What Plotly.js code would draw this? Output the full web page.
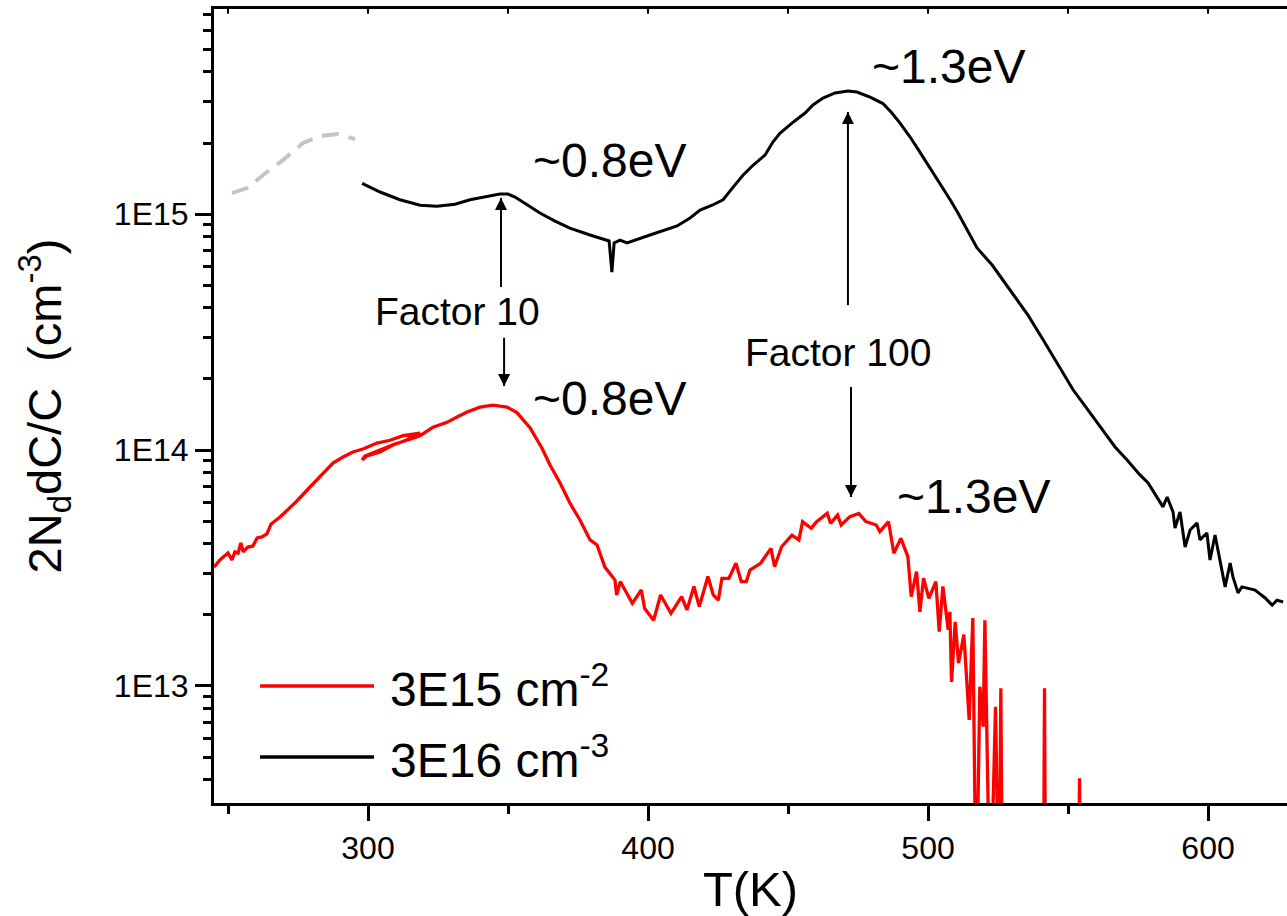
<!DOCTYPE html>
<html>
<head>
<meta charset="utf-8">
<script src="https://cdn.plot.ly/plotly-3.0.1.min.js"></script>
<style>html,body{margin:0;padding:0;background:#fff;}#chart{width:1287px;height:916px;}</style>
</head>
<body>
<div id="chart"></div>
<script>
// ---- data (T in K, 2NddC/C in cm^-3) ----
const blackT = [297.9,304.3,311.4,318.6,324.6,331.1,336.4,343.6,347.1,350.0,352.5,357.1,361.4,366.8,372.1,379.3,384.6,386.1,387.1,387.9,390.0,392.5,400.7,410.4,415.0,418.6,422.9,426.8,430.4,433.9,437.5,441.8,444.6,447.1,451.4,456.1,458.9,462.5,466.8,471.4,474.6,479.3,483.9,487.1,490.0,493.6,497.1,500.7,504.3,507.9,510.7,514.3,517.5,522.9,529.3,535.7,541.1,548.2,551.8,555.0,558.9,563.2,566.8,571.1,575.7,578.6,581.8,583.9,585.4,587.5,588.2,590.0,591.8,593.6,596.1,597.1,599.6,600.7,602.5,604.3,606.1,607.9,608.9,610.7,612.1,616.8,620.4,622.9,624.6,626.8];
const blackV = [1.35e15,1.24e15,1.15e15,1.09e15,1.08e15,1.10e15,1.15e15,1.19e15,1.215e15,1.215e15,1.18e15,1.09e15,1.01e15,9.34e14,8.72e14,8.15e14,7.76e14,7.69e14,5.68e14,7.54e14,7.76e14,7.54e14,8.15e14,8.90e14,9.62e14,1.04e15,1.09e15,1.15e15,1.30e15,1.46e15,1.61e15,1.78e15,2.02e15,2.20e15,2.43e15,2.68e15,2.90e15,3.10e15,3.26e15,3.32e15,3.29e15,3.13e15,2.94e15,2.68e15,2.43e15,2.12e15,1.83e15,1.57e15,1.33e15,1.15e15,1.01e15,8.39e14,7.18e14,6.08e14,4.76e14,3.73e14,2.93e14,2.12e14,1.80e14,1.60e14,1.38e14,1.18e14,1.03e14,9.07e13,7.84e13,7.25e13,6.26e13,5.74e13,6.32e13,5.46e13,4.67e13,5.46e13,3.88e13,4.58e13,4.91e13,4.16e13,4.45e13,3.42e13,4.36e13,3.42e13,2.63e13,3.32e13,2.90e13,2.48e13,2.63e13,2.55e13,2.36e13,2.20e13,2.31e13,2.27e13];

const grayT = [251.4,256.8,263.9,269.6,276.8,282.9,289.3,295.4];
const grayV = [1.227e15,1.289e15,1.507e15,1.693e15,2.0e15,2.141e15,2.183e15,2.079e15];

const redT = [245.0,247.1,250.0,251.4,252.5,253.6,254.6,255.4,257.1,258.9,260.4,262.1,263.9,265.4,268.6,271.4,274.6,279.3,283.9,287.5,291.1,294.6,298.2,303.2,307.9,312.5,318.6,313.6,308.9,304.3,299.6,297.9,298.9,304.3,309.6,315.0,318.6,323.2,328.2,331.8,335.4,340.0,344.6,349.6,353.2,357.9,362.1,365.0,368.6,372.1,375.7,379.3,381.8,384.6,
  388.2,388.8,390.1,394.4,397.6,398.8,402.0,404.5,408.2,412.0,413.9,416.4,418.3,421.4,423.3,425.1,426.4,428.9,431.4,433.3,435.1,436.4,440.2,443.9,445.2,447.7,451.4,453.9,455.2,458.3,460.2,464.0,465.2,467.7,469.0,472.1,475.3,477.8,481.5,482.8,485.9,487.8,490.3,492.8,494.0,495.9,497.1,498.4,500.3,502.8,504.0,505.3,507.2,507.8,508.4,509.7,510.9,512.8,514.7,516.0,517.2,518.5,519.7,520.3,522.2,524.1,525.4,526.0,526.6,541.2,541.6,542.0,553.8,554.1,554.4];
const redV = [3.19e13,3.42e13,3.66e13,3.42e13,3.70e13,3.66e13,4.04e13,3.70e13,3.88e13,3.92e13,4.24e13,4.28e13,4.41e13,4.86e13,5.20e13,5.57e13,6.08e13,6.97e13,7.91e13,8.81e13,9.34e13,9.81e13,1.01e14,1.07e14,1.10e14,1.15e14,1.18e14,1.10e14,1.05e14,9.81e13,9.43e13,9.07e13,9.43e13,1.00e14,1.06e14,1.11e14,1.15e14,1.25e14,1.31e14,1.38e14,1.45e14,1.52e14,1.55e14,1.52e14,1.44e14,1.24e14,1.02e14,8.64e13,7.25e13,5.96e13,5.05e13,4.16e13,3.96e13,3.19e13,
  2.81e13,2.43e13,2.77e13,2.24e13,2.55e13,2.13e13,1.90e13,2.43e13,2.03e13,2.39e13,2.10e13,2.64e13,2.17e13,2.91e13,2.43e13,2.31e13,2.86e13,2.86e13,3.31e13,2.77e13,2.77e13,3.10e13,3.31e13,3.83e13,3.20e13,3.89e13,4.36e13,4.16e13,4.97e13,4.66e13,4.97e13,5.39e13,4.89e13,5.30e13,4.81e13,5.22e13,5.39e13,4.97e13,4.81e13,4.51e13,4.97e13,3.65e13,4.22e13,3.53e13,2.39e13,3.05e13,2.06e13,2.86e13,2.35e13,2.77e13,1.70e13,2.64e13,1.73e13,2.06e13,1.04e13,1.87e13,1.25e13,1.65e13,7.18e12,1.94e13,1.0e12,9.93e12,6.72e12,1.90e13,1.0e12,8.17e12,1.0e12,9.78e12,1.0e12,1.0e12,9.78e12,1.0e12,1.0e12,4.06e12,1.0e12];

const seriesNames = ['3E15 cm<sup>-2</sup>', '3E16 cm<sup>-3</sup>'];
const xTickVals = [300, 400, 500, 600];
const xTickText = ['300', '400', '500', '600'];
const xMinorVals = [250, 350, 450, 550];
const topTickVals = [250, 300, 350, 400, 450, 500, 550, 600];
const yTickVals = [1e13, 1e14, 1e15];
const yTickText = ['1E13', '1E14', '1E15'];
const yMinorVals = [4e12,5e12,6e12,7e12,8e12,9e12,2e13,3e13,4e13,5e13,6e13,7e13,8e13,9e13,2e14,3e14,4e14,5e14,6e14,7e14,8e14,9e14,2e15,3e15,4e15,5e15,6e15,7e15];

// peak labels: [T, log10(value), text]
const peakLabels = [
  [358.2, 15.229, '~0.8eV'],
  [479.3, 15.627, '~1.3eV'],
  [358.2, 14.220, '~0.8eV'],
  [488.2, 13.801, '~1.3eV']
];
// arrows: [T, tip value, tail value]
const arrowT = [347.5, 348.6, 471.4, 472.5];
const arrowTip = [1.17e15, 1.866e14, 2.71e15, 6.32e13];
const arrowTail = [4.91e14, 2.99e14, 4.11e14, 1.85e14];
const factorLabels = [
  [331.8, 14.585, 'Factor 10'],
  [467.7, 14.415, 'Factor 100']
];

const FONT = 'Liberation Sans, Arial, Helvetica, sans-serif';

const traces = [
  {x: grayT, y: grayV, type: 'scatter', mode: 'lines', line: {color: '#c4c4c4', width: 4, dash: '17px,10px'}, hoverinfo: 'skip', showlegend: false},
  {x: blackT, y: blackV, type: 'scatter', mode: 'lines', name: seriesNames[1], line: {color: '#000000', width: 3}, showlegend: false},
  {x: redT, y: redV, type: 'scatter', mode: 'lines', name: seriesNames[0], line: {color: '#ff0000', width: 3.3}, showlegend: false}
];

// arrows as shaft + head traces
arrowT.forEach((t, i) => {
  const up = arrowTip[i] > arrowTail[i];
  traces.push({x: [t, t], y: [arrowTail[i], arrowTip[i]], type: 'scatter', mode: 'lines', line: {color: '#000', width: 2}, showlegend: false, hoverinfo: 'skip'});
  traces.push({x: [t], y: [arrowTip[i]], type: 'scatter', mode: 'markers', marker: {symbol: up ? 'arrow-up' : 'arrow-down', size: 12, color: '#000', line: {width: 0}}, showlegend: false, hoverinfo: 'skip'});
});

const annotations = [];
peakLabels.forEach(p => annotations.push({x: p[0], y: p[1], xref: 'x', yref: 'y', text: p[2], showarrow: false, xanchor: 'left', yanchor: 'middle', font: {size: 48, family: FONT, color: '#000'}}));
factorLabels.forEach(p => annotations.push({x: p[0], y: p[1], xref: 'x', yref: 'y', text: p[2], showarrow: false, xanchor: 'center', yanchor: 'middle', font: {size: 39, family: FONT, color: '#000'}}));

const shapes = [];
// small inward ticks on the top frame line
topTickVals.forEach(v => shapes.push({type: 'line', xref: 'x', yref: 'paper', x0: v, x1: v, y0: 1, y1: 0.994, line: {color: '#000', width: 2}}));

// manual legend (long line samples as in the original)
const legendY = [0.1474, 0.0579];
const legendColors = ['#ff0000', '#000000'];
legendY.forEach((yy, i) => {
  shapes.push({type: 'line', xref: 'paper', yref: 'paper', x0: 0.0429, x1: 0.1491, y0: yy, y1: yy, line: {color: legendColors[i], width: 3.5}});
  annotations.push({x: 0.1622, y: yy, xref: 'paper', yref: 'paper', text: seriesNames[i], showarrow: false, xanchor: 'left', yanchor: 'middle', font: {size: 48, family: FONT, color: '#000'}});
});

const layout = {
  width: 1287, height: 916,
  margin: {l: 214, r: 0, t: 9, b: 113},
  paper_bgcolor: '#fff', plot_bgcolor: '#fff',
  showlegend: false,
  font: {family: FONT, color: '#000'},
  xaxis: {
    range: [245, 628.2], showline: true, linewidth: 3, linecolor: '#000', mirror: true,
    ticks: 'outside', ticklen: 15, tickwidth: 3, tickcolor: '#000',
    tickmode: 'array', tickvals: xTickVals, ticktext: xTickText,
    tickfont: {size: 32, family: FONT, color: '#000'},
    minor: {ticks: 'outside', ticklen: 8, tickwidth: 3, tickcolor: '#000', tickmode: 'array', tickvals: xMinorVals, showgrid: false},
    showgrid: false, zeroline: false,
    title: {text: 'T(K)', font: {size: 49, family: FONT, color: '#000'}, standoff: 16}
  },
  yaxis: {
    type: 'log', range: [12.504, 15.869], showline: true, linewidth: 3, linecolor: '#000',
    ticks: 'outside', ticklen: 16, tickwidth: 3, tickcolor: '#000',
    tickmode: 'array', tickvals: yTickVals, ticktext: yTickText,
    tickfont: {size: 32, family: FONT, color: '#000'},
    minor: {ticks: 'outside', ticklen: 8, tickwidth: 3, tickcolor: '#000', tickmode: 'array', tickvals: yMinorVals, showgrid: false},
    showgrid: false, zeroline: false,
    title: {text: '2N<sub>d</sub>dC/C  (cm<sup>-3</sup>)', font: {size: 47, family: FONT, color: '#000'}, standoff: 38}
  },
  annotations: annotations,
  shapes: shapes
};

Plotly.newPlot('chart', traces, layout, {displayModeBar: false, staticPlot: true});
</script>
</body>
</html>
